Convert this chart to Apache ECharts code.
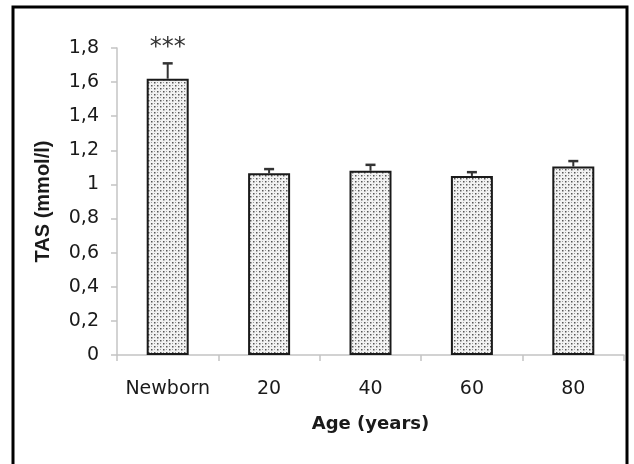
<!DOCTYPE html>
<html>
<head>
<meta charset="utf-8">
<script src="https://cdn.jsdelivr.net/npm/echarts@6/dist/echarts.min.js"></script>
<style>
html,body{margin:0;padding:0;background:#fff;}
#chart{width:634px;height:464px;}
</style>
</head>
<body>
<div id="chart"></div>
<script>
var categories = ['Newborn', '20', '40', '60', '80'];
var tasValues = [1.62, 1.065, 1.08, 1.05, 1.105];
var tasErrors = [0.09, 0.025, 0.035, 0.022, 0.032];
var significance = ['***', '', '', '', ''];
var yTicks = { min: 0, max: 1.8, interval: 0.2 };

// dotted pattern for bar fill
var pat = document.createElement('canvas');
pat.width = 6; pat.height = 6;
var pc = pat.getContext('2d');
pc.fillStyle = '#f2f2f2';
pc.fillRect(0, 0, 6, 6);
pc.fillStyle = '#555';
pc.fillRect(1, 1, 1.5, 1.5);
pc.fillRect(4, 4, 1.5, 1.5);
pc.fillStyle = '#9a9a9a';
pc.fillRect(4, 1, 1, 1);
pc.fillRect(1, 4, 1, 1);

var errData = tasValues.map(function (v, i) { return [i, v, tasErrors[i]]; });

var chart = echarts.init(document.getElementById('chart'));
chart.setOption({
  animation: false,
  backgroundColor: '#fff',
  grid: { left: 117, right: 10, top: 48, bottom: 109 },
  graphic: [{
    type: 'rect',
    shape: { x: 13, y: 7, width: 614, height: 480 },
    style: { fill: 'none', stroke: '#000', lineWidth: 3 },
    z: 100
  }],
  xAxis: {
    type: 'category',
    data: categories,
    boundaryGap: true,
    name: 'Age (years)',
    nameLocation: 'middle',
    nameGap: 60,
    nameTextStyle: { fontFamily: 'DejaVu Sans', fontWeight: 'bold', fontSize: 18, color: '#1a1a1a' },
    axisLine: { lineStyle: { color: '#c4c4c4', width: 1.5 } },
    axisTick: { show: true, alignWithLabel: false, interval: 0, length: 6, lineStyle: { color: '#c4c4c4', width: 1.5 } },
    axisLabel: { interval: 0, margin: 25, fontFamily: 'DejaVu Sans', fontSize: 19, color: '#1a1a1a' },
    splitLine: { show: false }
  },
  yAxis: {
    type: 'value',
    min: yTicks.min,
    max: yTicks.max,
    interval: yTicks.interval,
    name: 'TAS (mmol/l)',
    nameLocation: 'middle',
    nameGap: 64,
    nameTextStyle: { fontFamily: 'Liberation Sans', fontWeight: 'bold', fontSize: 20, color: '#1a1a1a' },
    axisLine: { show: true, lineStyle: { color: '#c4c4c4', width: 1.5 } },
    axisTick: { show: true, length: 6, lineStyle: { color: '#c4c4c4', width: 1.5 } },
    axisLabel: {
      margin: 18, fontFamily: 'DejaVu Sans', fontSize: 19, color: '#1a1a1a',
      formatter: function (v) { return String(+v.toFixed(1)).replace('.', ','); }
    },
    splitLine: { show: false }
  },
  series: [{
    type: 'bar',
    data: tasValues,
    barWidth: 42,
    itemStyle: {
      color: { image: pat, repeat: 'repeat' },
      borderColor: '#1a1a1a',
      borderWidth: 2
    },
    z: 2
  }, {
    type: 'custom',
    data: errData,
    z: 3,
    renderItem: function (params, api) {
      var i = api.value(0);
      var v = api.value(1);
      var e = api.value(2);
      var base = api.coord([i, v]);
      var top = api.coord([i, v + e]);
      var children = [{
        type: 'line',
        shape: { x1: base[0], y1: base[1], x2: top[0], y2: top[1] },
        style: { stroke: '#333', lineWidth: 2 }
      }, {
        type: 'line',
        shape: { x1: top[0] - 5, y1: top[1], x2: top[0] + 5, y2: top[1] },
        style: { stroke: '#333', lineWidth: 2.5 }
      }];
      var s = significance[params.dataIndex];
      if (s) {
        children.push({
          type: 'text',
          style: {
            text: s, x: top[0], y: top[1] - 16,
            textAlign: 'center', textVerticalAlign: 'middle',
            fontFamily: 'DejaVu Sans', fontSize: 24, fill: '#333'
          }
        });
      }
      return { type: 'group', children: children };
    }
  }]
});
</script>
</body>
</html>
